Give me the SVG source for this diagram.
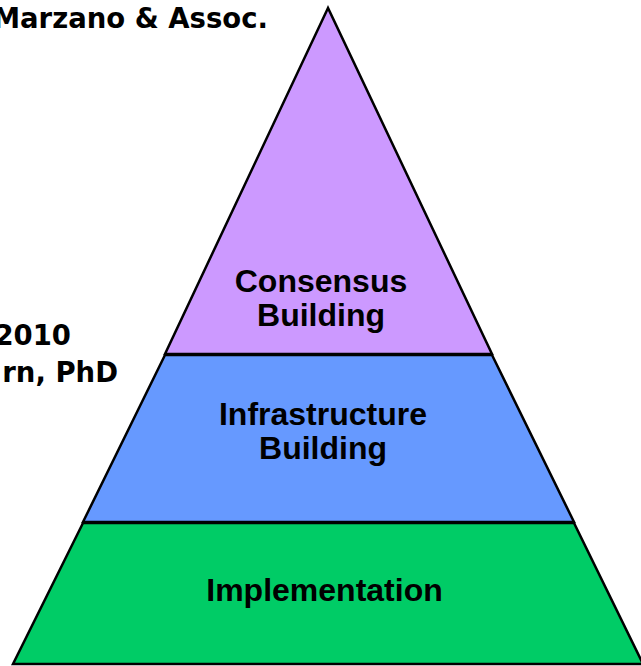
<svg xmlns="http://www.w3.org/2000/svg" width="641" height="666" viewBox="0 0 641 666">
<style>
.tier{stroke:#000;stroke-width:2.5;stroke-linejoin:miter}
.lbl{font-family:"Liberation Sans",Arial,sans-serif;font-weight:bold;font-size:32px;fill:#000;text-anchor:middle}
.side{font-family:"DejaVu Sans","Liberation Sans",sans-serif;font-weight:bold;font-size:27.5px;fill:#000;text-anchor:end}
</style>
<rect width="641" height="666" fill="#fff"/>
<g id="side-text">
<text class="side" x="268" y="28">Marzano &amp; Assoc.</text>
<text class="side" x="71" y="345">2010</text>
<text class="side" x="118" y="382">rn, PhD</text>
</g>
<g id="consensus">
<polygon class="tier" fill="#CC99FF" points="328,8 165,354 492,354"/>
<text class="lbl" x="321" y="292">Consensus</text>
<text class="lbl" x="321" y="326">Building</text>
</g>
<g id="infrastructure">
<polygon class="tier" fill="#6699FF" points="165,355 83,522 574,522 492,355"/>
<text class="lbl" x="323" y="425">Infrastructure</text>
<text class="lbl" x="323" y="459">Building</text>
</g>
<g id="implementation">
<polygon class="tier" fill="#00CC66" points="83,523 13,664 643,664 574,523"/>
<text class="lbl" x="324.5" y="601">Implementation</text>
</g>
<g id="connectors"></g>
</svg>
